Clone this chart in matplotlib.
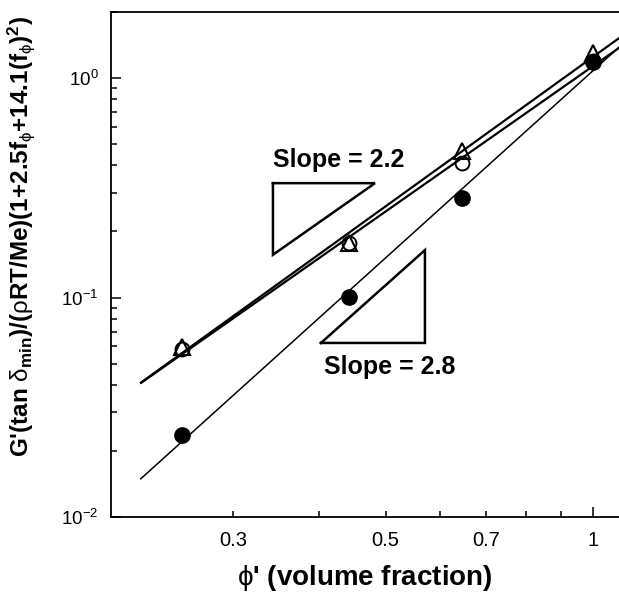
import numpy as np
import matplotlib
matplotlib.use("Agg")
import matplotlib.pyplot as plt
from matplotlib.ticker import FixedLocator, FuncFormatter, LogLocator, LogFormatterSciNotation, NullFormatter

plt.rcParams['font.family'] = ['Liberation Sans', 'DejaVu Sans']
plt.rcParams['mathtext.fontset'] = 'custom'
plt.rcParams['mathtext.rm'] = 'Liberation Sans'
plt.rcParams['mathtext.it'] = 'Liberation Sans:italic'
plt.rcParams['mathtext.bf'] = 'Liberation Sans:bold'

# volume fraction phi' and reduced modulus for the three samples
phi = [0.253, 0.442, 0.646, 1.0]
G_triangle = [0.0595, 0.177, 0.465, 1.30]
G_open = [0.058, 0.178, 0.41, 1.20]
G_filled = [0.0236, 0.1005, 0.284, 1.18]

fit_range = [0.22, 1.15]

# slope guides: (x left, x right, y at the flat edge, slope)
guide_22 = (0.343, 0.4826, 0.332, 2.2)
guide_28 = (0.4028, 0.5704, 0.0621, 2.8)

xtick_major = [1.0]
xtick_minor = [0.3, 0.4, 0.5, 0.6, 0.7, 0.8, 0.9]
xtick_labels = {0.3: "0.3", 0.5: "0.5", 0.7: "0.7", 1.0: "1"}

fig = plt.figure(figsize=(6.19, 5.92), dpi=100)
ax = fig.add_axes([111 / 619, 75 / 592, 508 / 619, 505 / 592])
ax.set_xscale('log')
ax.set_yscale('log')


def power_fit(x, y):
    k, b = np.polyfit(np.log10(x), np.log10(y), 1)
    xf = np.array(fit_range)
    return xf, 10 ** b * xf ** k


for ys, lw in [(G_triangle, 1.6), (G_open, 1.6), (G_filled, 1.1)]:
    xf, yf = power_fit(phi, ys)
    ax.plot(xf, yf, color='black', lw=lw, zorder=2, solid_capstyle='butt')

ax.plot(phi, G_filled, 'o', ms=11, color='black', zorder=3)
ax.plot(phi, G_open, 'o', ms=10, mfc='none', mec='black', mew=1.4, zorder=3)
ax.plot(phi, G_triangle, '^', ms=12, mfc='none', mec='black', mew=1.5, zorder=3)

# slope = 2.2 triangle, right angle at upper left
x0, x1, yt, s = guide_22
yb = yt / (x1 / x0) ** s
ax.plot([x0, x1, x0, x0], [yt, yt, yb, yt], color='black', lw=1.8,
        solid_joinstyle='miter')
ax.text(x0, yt * 1.12, "Slope = 2.2", fontsize=18, fontweight='bold',
        ha='left', va='bottom')

# slope = 2.8 triangle, right angle at lower right
x0, x1, yb, s = guide_28
yt = yb * (x1 / x0) ** s
ax.plot([x0, x1, x1, x0], [yb, yb, yt, yb], color='black', lw=1.8,
        solid_joinstyle='miter')
ax.text(x0 * 1.01, yb * 0.88, "Slope = 2.8", fontsize=18, fontweight='bold',
        ha='left', va='top')

ax.set_xlim(0.1995, 1.092)
ax.set_ylim(0.01, 2.0)

ax.xaxis.set_major_locator(FixedLocator(xtick_major))
ax.xaxis.set_minor_locator(FixedLocator(xtick_minor))
ax.xaxis.set_major_formatter(FuncFormatter(lambda v, p: xtick_labels.get(round(v, 2), "")))
ax.xaxis.set_minor_formatter(FuncFormatter(lambda v, p: xtick_labels.get(round(v, 2), "")))

ax.yaxis.set_major_locator(LogLocator(base=10))
ax.yaxis.set_minor_locator(LogLocator(base=10, subs=np.arange(2, 10)))
ax.yaxis.set_major_formatter(LogFormatterSciNotation())
ax.yaxis.set_minor_formatter(NullFormatter())

ax.tick_params(which='both', direction='in', width=1.1)
ax.tick_params(axis='x', which='both', labelsize=14.5)
ax.tick_params(axis='y', which='both', labelsize=13.5)
ax.tick_params(axis='x', which='major', length=7, pad=10)
ax.tick_params(axis='x', which='minor', length=4, pad=10)
ax.tick_params(axis='y', which='major', length=7, pad=9)
ax.tick_params(axis='y', which='minor', length=4)

for side in ['left', 'bottom', 'top']:
    ax.spines[side].set_linewidth(1.3)
ax.spines['right'].set_visible(False)

ax.set_xlabel(r"$\mathrm{\phi}$' (volume fraction)", fontsize=20, fontweight='bold')
ax.xaxis.set_label_coords(0.5, -0.092)
ax.set_ylabel(r"G'(tan $\mathrm{\delta}_{\mathbf{min}}$)/($\mathrm{\rho}$RT/Me)"
              r"(1+2.5f$_\mathrm{\phi}$+14.1(f$_\mathrm{\phi}$)$^\mathbf{2}$)",
              fontsize=17.5, fontweight='bold')
ax.yaxis.set_label_coords(-0.145, 0.555)

fig.savefig("out.png", dpi=100)
